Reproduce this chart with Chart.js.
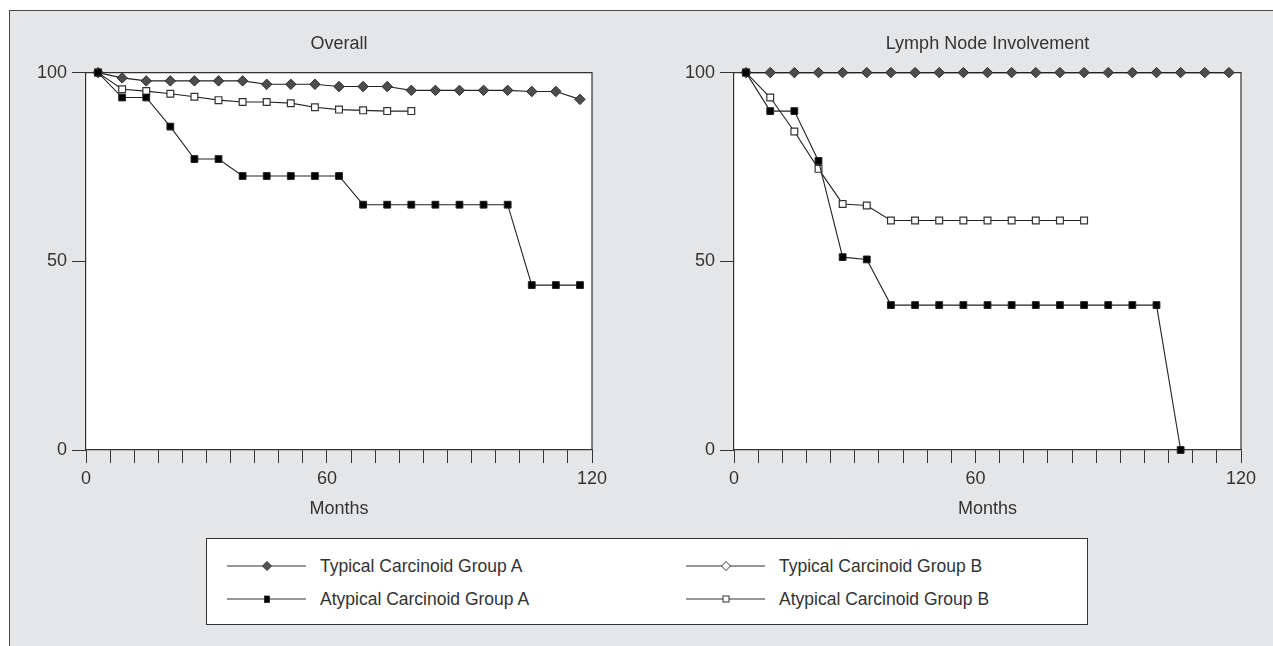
<!DOCTYPE html>
<html>
<head>
<meta charset="utf-8">
<script src="https://cdn.jsdelivr.net/npm/chart.js@4.4.1/dist/chart.umd.min.js"></script>
<style>
  body { margin: 0; background: #fff; width: 1273px; height: 646px; overflow: hidden; position: relative; font-family: "Liberation Sans", Arial, sans-serif; }
  #frame { position: absolute; left: 9px; top: 10px; right: 0; bottom: 0; background: #e5e6e8; border-top: 1.5px solid #4a4a4a; border-left: 1.5px solid #4a4a4a; }
  canvas { position: absolute; top: 0; }
  #overall { left: 0; }
  #lymph { left: 648px; }
  #legend { position: absolute; left: 206px; top: 538px; width: 880px; height: 85px; background: #fff; border: 1px solid #333; }
  .item { position: absolute; height: 20px; display: flex; align-items: center; font-size: 17.5px; color: #333; white-space: nowrap; }
  .item svg { margin-right: 14px; }
</style>
</head>
<body>
<div id="frame"></div>
<canvas id="overall" width="620" height="520"></canvas>
<canvas id="lymph" width="620" height="520"></canvas>
<div id="legend"></div>
<script>
// months of each survival point
const months = [3, 9, 15, 21, 27, 33, 39, 45, 51, 57, 63, 69, 75, 81, 87, 93, 99, 105, 111, 117, 123];
const xTickLabels = { 0: '0', 60: '60', 126: '120' };

// Overall
const typicalAOverall = [100, 98.6, 97.8, 97.8, 97.8, 97.8, 97.8, 96.9, 96.9, 96.9, 96.3, 96.3, 96.3, 95.3, 95.3, 95.3, 95.3, 95.3, 95.0, 95.0, 92.9];
const atypicalAOverall = [100, 93.4, 93.4, 85.7, 77.1, 77.1, 72.6, 72.6, 72.6, 72.6, 72.6, 65.0, 65.0, 65.0, 65.0, 65.0, 65.0, 65.0, 43.7, 43.7, 43.7];
const atypicalBOverall = [100, 95.6, 95.1, 94.4, 93.6, 92.7, 92.2, 92.2, 91.9, 90.8, 90.2, 90.0, 89.8, 89.8];

// Lymph node involvement
const typicalALymph = [100, 100, 100, 100, 100, 100, 100, 100, 100, 100, 100, 100, 100, 100, 100, 100, 100, 100, 100, 100, 100];
const atypicalALymph = [100, 89.8, 89.8, 76.6, 51.1, 50.5, 38.4, 38.4, 38.4, 38.4, 38.4, 38.4, 38.4, 38.4, 38.4, 38.4, 38.4, 38.4, 0];
const atypicalBLymph = [100, 93.4, 84.4, 74.5, 65.2, 64.8, 60.8, 60.8, 60.8, 60.8, 60.8, 60.8, 60.8, 60.8, 60.8];

const seriesNames = ['Typical Carcinoid Group A', 'Typical Carcinoid Group B', 'Atypical Carcinoid Group A', 'Atypical Carcinoid Group B'];

const ink = '#333';

function points(values) {
  return values.map((v, i) => ({ x: months[i], y: v }));
}

const plotFrame = {
  id: 'plotFrame',
  beforeDraw(chart) {
    const a = chart.chartArea;
    const ctx = chart.ctx;
    ctx.save();
    ctx.fillStyle = '#fff';
    ctx.fillRect(a.left, a.top, a.right - a.left, a.bottom - a.top);
    ctx.restore();
  },
  beforeDatasetsDraw(chart) {
    const a = chart.chartArea;
    const ctx = chart.ctx;
    ctx.save();
    ctx.strokeStyle = ink;
    ctx.lineWidth = 1.2;
    ctx.beginPath();
    ctx.moveTo(a.left, a.top);
    ctx.lineTo(a.right, a.top);
    ctx.lineTo(a.right, a.bottom);
    ctx.stroke();
    ctx.restore();
  }
};

function makeChart(id, title, atypA, atypB, typA, padRight) {
  new Chart(document.getElementById(id), {
    type: 'line',
    data: {
      datasets: [
        {
          label: seriesNames[2], data: points(atypA),
          borderColor: '#222', borderWidth: 1.1, pointStyle: 'rect', pointRadius: 4.8,
          pointBackgroundColor: '#000', pointBorderColor: '#222', pointBorderWidth: 1, clip: false
        },
        {
          label: seriesNames[3], data: points(atypB),
          borderColor: '#222', borderWidth: 1.1, pointStyle: 'rect', pointRadius: 4.8,
          pointBackgroundColor: '#fff', pointBorderColor: '#333', pointBorderWidth: 1.2, clip: false
        },
        {
          label: seriesNames[0], data: points(typA),
          borderColor: '#222', borderWidth: 1.1, pointStyle: 'rectRot', pointRadius: 5.2,
          pointBackgroundColor: '#4d4d4d', pointBorderColor: '#2a2a2a', pointBorderWidth: 1, clip: false
        }
      ]
    },
    options: {
      responsive: false,
      animation: false,
      layout: { padding: { top: 10, right: padRight, left: 0, bottom: 0 } },
      elements: { line: { tension: 0 } },
      plugins: {
        legend: { display: false },
        tooltip: { enabled: false },
        title: {
          display: true, text: title, color: ink, fullSize: false,
          font: { family: 'Liberation Sans', size: 18, weight: 'normal' },
          padding: { top: 23, bottom: 18 }
        }
      },
      scales: {
        x: {
          type: 'linear', min: 0, max: 126,
          afterFit(scale) { scale.height = 70; },
          border: { display: true, color: ink, width: 1.2 },
          grid: { drawOnChartArea: false, drawTicks: true, tickLength: 13, color: ink, lineWidth: 1 },
          ticks: {
            stepSize: 6, autoSkip: false, maxRotation: 0, padding: 5, color: ink,
            font: { family: 'Liberation Sans', size: 18 },
            callback: v => xTickLabels[v] !== undefined ? xTickLabels[v] : ''
          },
          title: {
            display: true, text: 'Months', color: ink,
            font: { family: 'Liberation Sans', size: 18 },
            padding: { top: 3, bottom: 0 }
          }
        },
        y: {
          min: 0, max: 100,
          afterFit(scale) { scale.width = 86; },
          border: { display: true, color: ink, width: 1.2 },
          grid: { drawOnChartArea: false, drawTicks: true, tickLength: 14, color: ink, lineWidth: 1 },
          ticks: {
            stepSize: 50, padding: 5, color: ink,
            font: { family: 'Liberation Sans', size: 18 }
          }
        }
      }
    },
    plugins: [plotFrame]
  });
}

makeChart('overall', 'Overall', atypicalAOverall, atypicalBOverall, typicalAOverall, 28);
makeChart('lymph', 'Lymph Node Involvement', atypicalALymph, atypicalBLymph, typicalALymph, 27);

// legend box below both panels
const markers = [
  '<polygon points="40,2.5 44.5,7 40,11.5 35.5,7" fill="#555" stroke="#333" stroke-width="1"/>',
  '<polygon points="40,2.5 44.5,7 40,11.5 35.5,7" fill="#fff" stroke="#333" stroke-width="1"/>',
  '<rect x="37.5" y="4" width="5" height="6.5" fill="#000" stroke="#222" stroke-width="0.8"/>',
  '<rect x="37" y="4" width="6" height="6" fill="#fff" stroke="#333" stroke-width="1"/>'
];
const legendPos = [[20, 17], [479, 17], [20, 50], [479, 50]];
const legend = document.getElementById('legend');
seriesNames.forEach((name, i) => {
  const div = document.createElement('div');
  div.className = 'item';
  div.style.left = legendPos[i][0] + 'px';
  div.style.top = legendPos[i][1] + 'px';
  div.innerHTML = '<svg width="79" height="14"><line x1="0" y1="7" x2="79" y2="7" stroke="#333" stroke-width="1.2"/>' +
    markers[i] + '</svg><span>' + name + '</span>';
  legend.appendChild(div);
});
</script>
</body>
</html>
